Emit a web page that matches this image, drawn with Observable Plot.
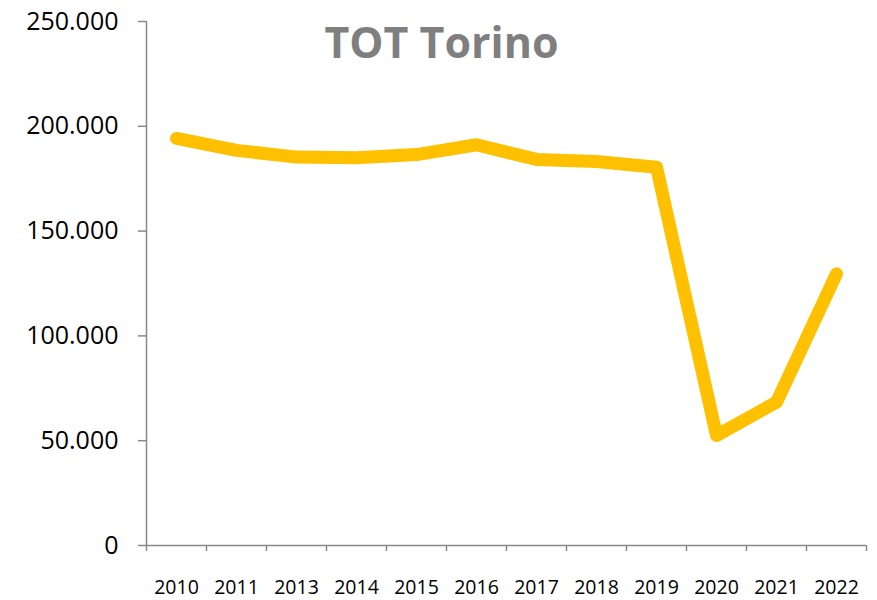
<!DOCTYPE html>
<html>
<head>
<meta charset="utf-8">
<script src="https://cdn.jsdelivr.net/npm/d3@7"></script>
<script src="https://cdn.jsdelivr.net/npm/@observablehq/plot@0.6"></script>
<style>
  html, body { margin: 0; padding: 0; background: #fff; }
  #chart svg { display: block; }
</style>
</head>
<body>
<div id="chart"></div>
<script>
const title = "TOT Torino";
const years = ["2010","2011","2013","2014","2015","2016","2017","2018","2019","2020","2021","2022"];
const values = [194200, 188500, 185300, 185000, 186500, 191200, 184200, 183200, 180500, 52500, 68400, 129600];
const yTicks = [0, 50000, 100000, 150000, 200000, 250000];

const data = years.map((y, i) => ({i, year: y, value: values[i]}));
const idx = d3.range(years.length);
const bounds = d3.range(years.length + 1).map(i => i - 0.5);
const fmtY = v => d3.format(",")(v).replace(/,/g, ".");
const axisColor = "#898989";

const chart = Plot.plot({
  width: 877,
  height: 600,
  marginLeft: 146,
  marginRight: 11,
  marginTop: 21,
  marginBottom: 55,
  style: {fontFamily: "'Open Sans', sans-serif", background: "#fff", color: "#000"},
  x: {domain: [-0.5, years.length - 0.5], axis: null},
  y: {domain: [0, 250000], axis: null},
  marks: [
    Plot.ruleX([-0.5], {stroke: axisColor, strokeWidth: 1.5}),
    Plot.ruleY([0], {stroke: axisColor, strokeWidth: 1.5}),
    Plot.axisY({ticks: yTicks, tickFormat: fmtY, label: null, tickSize: 8, tickPadding: 20, fontSize: 25, stroke: axisColor, strokeWidth: 1.5, color: "#000"}),
    Plot.axisX({ticks: bounds, tickFormat: () => "", label: null, tickSize: 6, stroke: axisColor, strokeWidth: 1.5}),
    Plot.axisX({ticks: idx, tickFormat: i => years[i], label: null, tickSize: 0, tickPadding: 35, fontSize: 19.5, color: "#000"}),
    Plot.line(data, {x: "i", y: "value", stroke: "#FFC000", strokeWidth: 13, strokeLinecap: "round", strokeLinejoin: "round"}),
    Plot.text([title], {frameAnchor: "top", lineAnchor: "middle", dx: -65, dy: 23, fontSize: 43, fontWeight: "bold", fill: "#7f7f7f"})
  ]
});
document.getElementById("chart").appendChild(chart);
</script>
</body>
</html>
